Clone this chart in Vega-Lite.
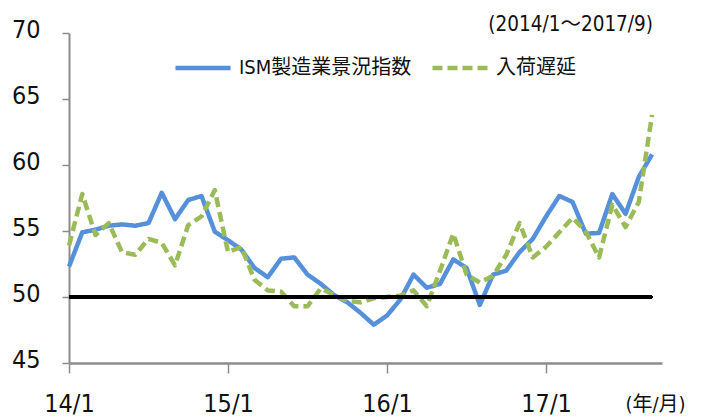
{
  "$schema": "https://vega.github.io/schema/vega-lite/v6.json",
  "width": 593,
  "height": 330,
  "autosize": "none",
  "padding": {"left": 69, "top": 33, "right": 40, "bottom": 54},
  "background": "white",
  "config": {
    "view": {"stroke": null},
    "font": "DejaVu Sans Condensed, Noto Sans CJK JP",
    "axis": {"labelColor": "#111", "titleColor": "#111", "labelFont": "DejaVu Sans Condensed, Noto Sans CJK JP", "titleFont": "DejaVu Sans Condensed, Noto Sans CJK JP"},
    "legend": {"labelFont": "DejaVu Sans Condensed, Noto Sans CJK JP", "labelColor": "#111"}
  },
  "title": {
    "text": "(2014/1～2017/9)",
    "anchor": "end",
    "frame": "group",
    "fontSize": 20.5,
    "fontWeight": "normal",
    "font": "DejaVu Sans Condensed, Noto Sans CJK JP",
    "color": "#111",
    "baseline": "middle",
    "offset": -28,
    "dx": -9
  },
  "data": {
    "values": [
      {"month": "2014/1", "t": 0, "series": "ISM製造業景況指数", "value": 52.3},
      {"month": "2014/2", "t": 1, "series": "ISM製造業景況指数", "value": 54.9},
      {"month": "2014/3", "t": 2, "series": "ISM製造業景況指数", "value": 55.1},
      {"month": "2014/4", "t": 3, "series": "ISM製造業景況指数", "value": 55.4},
      {"month": "2014/5", "t": 4, "series": "ISM製造業景況指数", "value": 55.5},
      {"month": "2014/6", "t": 5, "series": "ISM製造業景況指数", "value": 55.4},
      {"month": "2014/7", "t": 6, "series": "ISM製造業景況指数", "value": 55.6},
      {"month": "2014/8", "t": 7, "series": "ISM製造業景況指数", "value": 57.9},
      {"month": "2014/9", "t": 8, "series": "ISM製造業景況指数", "value": 55.9},
      {"month": "2014/10", "t": 9, "series": "ISM製造業景況指数", "value": 57.35},
      {"month": "2014/11", "t": 10, "series": "ISM製造業景況指数", "value": 57.65},
      {"month": "2014/12", "t": 11, "series": "ISM製造業景況指数", "value": 54.95},
      {"month": "2015/1", "t": 12, "series": "ISM製造業景況指数", "value": 54.3},
      {"month": "2015/2", "t": 13, "series": "ISM製造業景況指数", "value": 53.6},
      {"month": "2015/3", "t": 14, "series": "ISM製造業景況指数", "value": 52.2},
      {"month": "2015/4", "t": 15, "series": "ISM製造業景況指数", "value": 51.5},
      {"month": "2015/5", "t": 16, "series": "ISM製造業景況指数", "value": 52.9},
      {"month": "2015/6", "t": 17, "series": "ISM製造業景況指数", "value": 53.0},
      {"month": "2015/7", "t": 18, "series": "ISM製造業景況指数", "value": 51.7},
      {"month": "2015/8", "t": 19, "series": "ISM製造業景況指数", "value": 51.0},
      {"month": "2015/9", "t": 20, "series": "ISM製造業景況指数", "value": 50.15},
      {"month": "2015/10", "t": 21, "series": "ISM製造業景況指数", "value": 49.6},
      {"month": "2015/11", "t": 22, "series": "ISM製造業景況指数", "value": 48.8},
      {"month": "2015/12", "t": 23, "series": "ISM製造業景況指数", "value": 47.9},
      {"month": "2016/1", "t": 24, "series": "ISM製造業景況指数", "value": 48.6},
      {"month": "2016/2", "t": 25, "series": "ISM製造業景況指数", "value": 49.8},
      {"month": "2016/3", "t": 26, "series": "ISM製造業景況指数", "value": 51.7},
      {"month": "2016/4", "t": 27, "series": "ISM製造業景況指数", "value": 50.7},
      {"month": "2016/5", "t": 28, "series": "ISM製造業景況指数", "value": 51.0},
      {"month": "2016/6", "t": 29, "series": "ISM製造業景況指数", "value": 52.85},
      {"month": "2016/7", "t": 30, "series": "ISM製造業景況指数", "value": 52.2},
      {"month": "2016/8", "t": 31, "series": "ISM製造業景況指数", "value": 49.4},
      {"month": "2016/9", "t": 32, "series": "ISM製造業景況指数", "value": 51.7},
      {"month": "2016/10", "t": 33, "series": "ISM製造業景況指数", "value": 52.0},
      {"month": "2016/11", "t": 34, "series": "ISM製造業景況指数", "value": 53.4},
      {"month": "2016/12", "t": 35, "series": "ISM製造業景況指数", "value": 54.4},
      {"month": "2017/1", "t": 36, "series": "ISM製造業景況指数", "value": 56.1},
      {"month": "2017/2", "t": 37, "series": "ISM製造業景況指数", "value": 57.65},
      {"month": "2017/3", "t": 38, "series": "ISM製造業景況指数", "value": 57.2},
      {"month": "2017/4", "t": 39, "series": "ISM製造業景況指数", "value": 54.8},
      {"month": "2017/5", "t": 40, "series": "ISM製造業景況指数", "value": 54.85},
      {"month": "2017/6", "t": 41, "series": "ISM製造業景況指数", "value": 57.8},
      {"month": "2017/7", "t": 42, "series": "ISM製造業景況指数", "value": 56.3},
      {"month": "2017/8", "t": 43, "series": "ISM製造業景況指数", "value": 59.1},
      {"month": "2017/9", "t": 44, "series": "ISM製造業景況指数", "value": 60.8},
      {"month": "2014/1", "t": 0, "series": "入荷遅延", "value": 53.9},
      {"month": "2014/2", "t": 1, "series": "入荷遅延", "value": 57.8},
      {"month": "2014/3", "t": 2, "series": "入荷遅延", "value": 54.7},
      {"month": "2014/4", "t": 3, "series": "入荷遅延", "value": 55.6},
      {"month": "2014/5", "t": 4, "series": "入荷遅延", "value": 53.4},
      {"month": "2014/6", "t": 5, "series": "入荷遅延", "value": 53.2},
      {"month": "2014/7", "t": 6, "series": "入荷遅延", "value": 54.4},
      {"month": "2014/8", "t": 7, "series": "入荷遅延", "value": 54.1},
      {"month": "2014/9", "t": 8, "series": "入荷遅延", "value": 52.4},
      {"month": "2014/10", "t": 9, "series": "入荷遅延", "value": 55.45},
      {"month": "2014/11", "t": 10, "series": "入荷遅延", "value": 56.1},
      {"month": "2014/12", "t": 11, "series": "入荷遅延", "value": 58.1},
      {"month": "2015/1", "t": 12, "series": "入荷遅延", "value": 53.4},
      {"month": "2015/2", "t": 13, "series": "入荷遅延", "value": 53.8},
      {"month": "2015/3", "t": 14, "series": "入荷遅延", "value": 51.3},
      {"month": "2015/4", "t": 15, "series": "入荷遅延", "value": 50.5},
      {"month": "2015/5", "t": 16, "series": "入荷遅延", "value": 50.4},
      {"month": "2015/6", "t": 17, "series": "入荷遅延", "value": 49.3},
      {"month": "2015/7", "t": 18, "series": "入荷遅延", "value": 49.3},
      {"month": "2015/8", "t": 19, "series": "入荷遅延", "value": 50.65},
      {"month": "2015/9", "t": 20, "series": "入荷遅延", "value": 50.15},
      {"month": "2015/10", "t": 21, "series": "入荷遅延", "value": 49.7},
      {"month": "2015/11", "t": 22, "series": "入荷遅延", "value": 49.6},
      {"month": "2015/12", "t": 23, "series": "入荷遅延", "value": 49.9},
      {"month": "2016/1", "t": 24, "series": "入荷遅延", "value": 50.0},
      {"month": "2016/2", "t": 25, "series": "入荷遅延", "value": 50.1},
      {"month": "2016/3", "t": 26, "series": "入荷遅延", "value": 50.5},
      {"month": "2016/4", "t": 27, "series": "入荷遅延", "value": 49.3},
      {"month": "2016/5", "t": 28, "series": "入荷遅延", "value": 52.0},
      {"month": "2016/6", "t": 29, "series": "入荷遅延", "value": 54.8},
      {"month": "2016/7", "t": 30, "series": "入荷遅延", "value": 51.7},
      {"month": "2016/8", "t": 31, "series": "入荷遅延", "value": 51.1},
      {"month": "2016/9", "t": 32, "series": "入荷遅延", "value": 51.6},
      {"month": "2016/10", "t": 33, "series": "入荷遅延", "value": 53.2},
      {"month": "2016/11", "t": 34, "series": "入荷遅延", "value": 55.6},
      {"month": "2016/12", "t": 35, "series": "入荷遅延", "value": 53.0},
      {"month": "2017/1", "t": 36, "series": "入荷遅延", "value": 53.8},
      {"month": "2017/2", "t": 37, "series": "入荷遅延", "value": 54.9},
      {"month": "2017/3", "t": 38, "series": "入荷遅延", "value": 56.0},
      {"month": "2017/4", "t": 39, "series": "入荷遅延", "value": 54.95},
      {"month": "2017/5", "t": 40, "series": "入荷遅延", "value": 53.0},
      {"month": "2017/6", "t": 41, "series": "入荷遅延", "value": 57.0},
      {"month": "2017/7", "t": 42, "series": "入荷遅延", "value": 55.3},
      {"month": "2017/8", "t": 43, "series": "入荷遅延", "value": 57.2},
      {"month": "2017/9", "t": 44, "series": "入荷遅延", "value": 63.8}
    ]
  },
  "layer": [
    {
      "mark": {"type": "line", "strokeWidth": 4.5, "strokeJoin": "round", "strokeCap": "butt"},
      "encoding": {
        "x": {
          "field": "t",
          "type": "quantitative",
          "scale": {"domain": [0, 44.75], "nice": false, "zero": false},
          "axis": {
            "values": [0, 12, 24, 36],
            "labelExpr": "(floor(datum.value / 12) + 14) + '/1'",
            "grid": false,
            "tickSize": 10,
            "tickColor": "#8c8c8c",
            "tickWidth": 1.5,
            "domainColor": "#8c8c8c",
            "domainWidth": 2.5,
            "labelFontSize": 25,
            "labelPadding": 18,
            "labelAlign": "center",
            "title": "(年/月)",
            "titleFontSize": 20,
            "titleFontWeight": "normal",
            "titleX": 586,
            "titleY": 41,
            "titleAlign": "center",
            "titleBaseline": "middle",
            "titleAnchor": null
          }
        },
        "y": {
          "field": "value",
          "type": "quantitative",
          "scale": {"domain": [45, 70], "nice": false, "zero": false},
          "axis": {
            "values": [45, 50, 55, 60, 65, 70],
            "grid": false,
            "tickSize": 7,
            "tickColor": "#8c8c8c",
            "tickWidth": 1.5,
            "domainColor": "#8c8c8c",
            "domainWidth": 2,
            "labelFontSize": 25,
            "labelPadding": 22,
            "labelOffset": -4,
            "title": null
          }
        },
        "color": {
          "field": "series",
          "type": "nominal",
          "sort": ["ISM製造業景況指数", "入荷遅延"],
          "scale": {"domain": ["ISM製造業景況指数", "入荷遅延"], "range": ["#5590DA", "#9BBB59"]},
          "legend": {
            "orient": "none",
            "legendX": 104,
            "legendY": 5,
            "direction": "horizontal",
            "title": null,
            "padding": 0,
            "symbolType": "stroke",
            "symbolSize": 3025,
            "symbolStrokeWidth": 4.5,
            "labelFontSize": 20,
            "labelLimit": 0,
            "labelOffset": 6,
            "columnPadding": 11
          }
        },
        "strokeDash": {
          "field": "series",
          "type": "nominal",
          "sort": ["ISM製造業景況指数", "入荷遅延"],
          "scale": {"domain": ["ISM製造業景況指数", "入荷遅延"], "range": [[1, 0], [10, 5]]},
          "legend": {
            "orient": "none",
            "legendX": 104,
            "legendY": 5,
            "direction": "horizontal",
            "title": null,
            "padding": 0,
            "symbolType": "stroke",
            "symbolSize": 3025,
            "symbolStrokeWidth": 4.5,
            "labelFontSize": 20,
            "labelLimit": 0,
            "labelOffset": 6,
            "columnPadding": 11
          }
        }
      }
    },
    {
      "mark": {"type": "rule", "color": "black", "strokeWidth": 3},
      "encoding": {
        "x": {"datum": 0, "type": "quantitative"},
        "x2": {"datum": 44},
        "y": {"datum": 50, "type": "quantitative"}
      }
    }
  ]
}
